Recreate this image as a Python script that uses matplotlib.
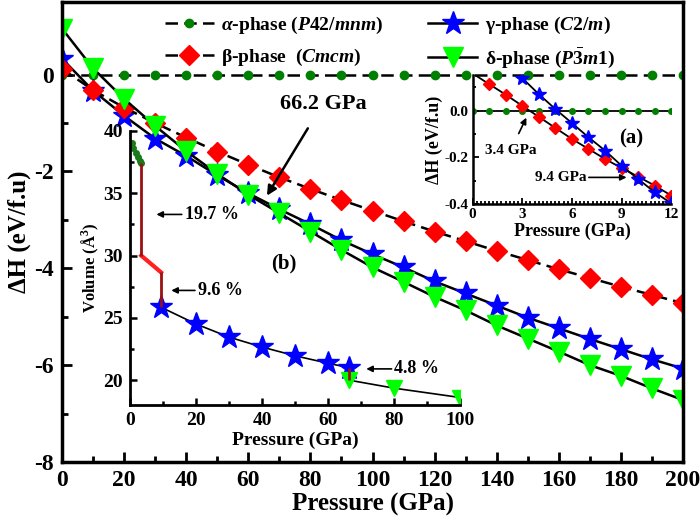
import matplotlib
matplotlib.use('Agg')
import matplotlib.pyplot as plt
from matplotlib.ticker import MultipleLocator, FormatStrFormatter

plt.rcParams['font.family'] = ['Liberation Serif', 'DejaVu Serif']
plt.rcParams['font.weight'] = 'bold'
plt.rcParams['axes.labelweight'] = 'bold'
plt.rcParams['axes.unicode_minus'] = False
plt.rcParams['mathtext.fontset'] = 'custom'
plt.rcParams['mathtext.rm'] = 'Liberation Serif:bold'
plt.rcParams['mathtext.it'] = 'Liberation Serif:italic:bold'
plt.rcParams['mathtext.bf'] = 'Liberation Serif:bold'

# main panel: enthalpy relative to alpha phase (eV/f.u) vs pressure (GPa)
pressure = [0, 10, 20, 30, 40, 50, 60, 70, 80, 90, 100,
            110, 120, 130, 140, 150, 160, 170, 180, 190, 200]
dh_alpha = [0] * 21
dh_beta = [0.12, -0.32, -0.68, -1.00, -1.30, -1.59, -1.86, -2.12, -2.36, -2.59, -2.81,
           -3.03, -3.24, -3.44, -3.64, -3.83, -4.02, -4.20, -4.38, -4.55, -4.72]
dh_gamma = [0.33, -0.33, -0.85, -1.32, -1.68, -2.08, -2.45, -2.78, -3.09, -3.42, -3.71,
            -3.98, -4.27, -4.52, -4.77, -5.02, -5.24, -5.46, -5.67, -5.88, -6.07]
dh_delta = [0.95, 0.13, -0.50, -1.06, -1.58, -2.05, -2.48, -2.86, -3.24, -3.62, -3.98,
            -4.28, -4.59, -4.87, -5.18, -5.45, -5.72, -6.00, -6.22, -6.48, -6.72]

# inset (a): low pressure zoom
pa = [0, 1, 2, 3, 4, 5, 6, 7, 8, 9, 10, 11, 12]
dha_alpha = [0] * 13
dha_beta = [0.16, 0.114, 0.069, 0.021, -0.026, -0.074, -0.121, -0.164, -0.207, -0.246, -0.283, -0.321, -0.364]
pa_gamma = [3, 4, 5, 6, 7, 8, 9, 10, 11, 12]
dha_gamma = [0.14, 0.071, 0.007, -0.053, -0.114, -0.171, -0.236, -0.293, -0.35, -0.397]

# inset (b): volume per f.u. along the transition path
pv_alpha = [0.5, 1.0, 1.8, 2.5, 3.0, 3.4]
v_alpha = [39.0, 38.6, 38.2, 37.9, 37.6, 37.4]
pv_beta = [3.4, 9.4]
v_beta = [30.0, 28.65]
pv_gamma = [9.4, 20, 30, 40, 50, 60, 66.2]
v_gamma = [25.85, 24.5, 23.45, 22.65, 21.95, 21.35, 21.0]
pv_delta = [66.2, 80, 100]
v_delta = [20.0, 19.35, 18.6]
p_trans = [3.4, 9.4, 66.2]
v_before = [37.4, 28.65, 21.0]
v_after = [30.0, 25.85, 20.0]

fig = plt.figure(figsize=(7, 5.26), dpi=100)
ax = fig.add_axes([0.0886, 0.1217, 0.8871, 0.8745])

ax.plot(pressure, dh_alpha, color='black', lw=1.8, ls=(0, (5, 2.5)), marker='o', ms=6,
        mfc='#008000', mec='#008000', label=r'$\alpha$-phase ($\mathit{P42/mnm}$)')
ax.plot(pressure, dh_gamma, color='black', lw=1.8, marker='*', ms=17,
        mfc='#0000ff', mec='#0000ff', label=r'γ-phase ($C2/m$)')
ax.plot(pressure, dh_beta, color='black', lw=1.8, ls=(0, (5, 2.5)), marker='D', ms=10,
        mfc='#ff0000', mec='#ff0000', label=r'β-phase  ($Cmcm$)')
ax.plot(pressure, dh_delta, color='black', lw=1.8, marker='v', ms=14,
        mfc='#00ff00', mec='#00ff00', label=r'δ-phase ($P\bar{3}m1$)')

ax.set_xlim(0, 200)
ax.set_ylim(-8, 1.5)
ax.xaxis.set_major_locator(MultipleLocator(20))
ax.xaxis.set_minor_locator(MultipleLocator(10))
ax.yaxis.set_major_locator(MultipleLocator(2))
ax.yaxis.set_minor_locator(MultipleLocator(1))
ax.tick_params(which='both', direction='in', width=2, labelsize=17, pad=6)
ax.tick_params(which='major', length=7)
ax.tick_params(which='minor', length=4)
for s in ax.spines.values():
    s.set_linewidth(2.5)
ax.set_xlabel('Pressure (GPa)', fontsize=18, labelpad=1)
ax.set_ylabel('ΔH (eV/f.u)', fontsize=18, labelpad=2)

# legend columns: alpha, beta | gamma, delta
h, l = ax.get_legend_handles_labels()
order = [0, 2, 1, 3]
ax.legend([h[i] for i in order], [l[i] for i in order], ncol=2, frameon=False,
          loc='upper left', bbox_to_anchor=(0.166, 0.972), borderaxespad=0, borderpad=0,
          handlelength=2.5, handletextpad=0.4, columnspacing=2.3, labelspacing=0.55,
          numpoints=1, fontsize=14)

ax.annotate('66.2 GPa', xy=(66, -2.5), xytext=(84, -0.6), fontsize=16, ha='center', va='center',
            arrowprops=dict(arrowstyle='-|>', color='black', lw=1.8, shrinkA=10, shrinkB=0,
                            mutation_scale=14))

# inset (a)
axa = fig.add_axes([0.675, 0.6122, 0.284, 0.2452], facecolor='none')
axa.plot(pa, dha_alpha, color='black', lw=1.3, marker='o', ms=4, mfc='#008000', mec='#008000')
axa.plot(pa, dha_beta, color='black', lw=1.3, marker='D', ms=6, mfc='#ff0000', mec='#ff0000',
         markevery=list(range(1, 13)))
axa.plot(pa_gamma, dha_gamma, color='black', lw=1.3, marker='*', ms=10, mfc='#0000ff', mec='#0000ff')
axa.set_xlim(0, 12)
axa.set_ylim(-0.4, 0.153)
axa.xaxis.set_major_locator(MultipleLocator(3))
axa.xaxis.set_minor_locator(MultipleLocator(0.25))
axa.yaxis.set_major_locator(MultipleLocator(0.2))
axa.yaxis.set_minor_locator(MultipleLocator(0.1))
axa.tick_params(which='both', direction='in', width=1.3, labelsize=11, pad=3)
axa.tick_params(which='major', length=4)
axa.tick_params(which='minor', length=2)
axa.yaxis.set_major_formatter(FormatStrFormatter('%.1f'))
axa.spines['top'].set_visible(False)
axa.spines['right'].set_visible(False)
for s in ['left', 'bottom']:
    axa.spines[s].set_linewidth(1.8)
axa.set_xlabel('Pressure (GPa)', fontsize=13, labelpad=1)
axa.set_ylabel('ΔH (eV/f.u)', fontsize=13, labelpad=1)
axa.annotate('3.4 GPa', xy=(3.25, -0.03), xytext=(2.3, -0.17), fontsize=11, ha='center', va='center',
             arrowprops=dict(arrowstyle='-|>', color='black', lw=1.2, shrinkA=6, shrinkB=0,
                             mutation_scale=9))
axa.annotate('9.4 GPa', xy=(9.3, -0.286), xytext=(5.3, -0.286), fontsize=11, ha='center', va='center',
             arrowprops=dict(arrowstyle='-|>', color='black', lw=1.2, shrinkA=28, shrinkB=0,
                             mutation_scale=9))
axa.text(9.6, -0.12, '(a)', fontsize=15, ha='center', va='center')

# inset (b)
axb = fig.add_axes([0.1857, 0.23, 0.4721, 0.521], facecolor='none')
axb.plot(pv_alpha, v_alpha, ls='none', marker='o', ms=4, mfc='#1a7a1a', mec='#1a7a1a')
axb.plot(pv_beta, v_beta, color='#ff2020', lw=3)
axb.plot(pv_gamma, v_gamma, color='black', lw=1.2, marker='*', ms=17, mfc='#0000ff', mec='#0000ff')
axb.plot(pv_delta, v_delta, color='black', lw=1.2, marker='v', ms=12, mfc='#00ff00', mec='#00ff00')
axb.vlines(p_trans, v_after, v_before, color='#9b1010', lw=2)
axb.set_xlim(0, 100)
axb.set_ylim(18, 40)
axb.xaxis.set_major_locator(MultipleLocator(20))
axb.xaxis.set_minor_locator(MultipleLocator(10))
axb.yaxis.set_major_locator(MultipleLocator(5))
axb.yaxis.set_minor_locator(MultipleLocator(2.5))
axb.tick_params(which='both', direction='in', width=1.8, labelsize=14, pad=5)
axb.tick_params(which='major', length=5)
axb.tick_params(which='minor', length=3)
axb.spines['top'].set_visible(False)
axb.spines['right'].set_visible(False)
for s in ['left', 'bottom']:
    axb.spines[s].set_linewidth(2)
axb.set_xlabel('Pressure (GPa)', fontsize=14, labelpad=2)
axb.set_ylabel('Volume (Å$^3$)', fontsize=12, labelpad=2)
arr = dict(arrowstyle='-|>', color='black', lw=1.2, shrinkA=0, shrinkB=0, mutation_scale=9)
axb.annotate('19.7 %', xy=(8, 33.3), xytext=(16.5, 33.3), fontsize=13, ha='left', va='center',
             arrowprops=arr)
axb.annotate('9.6 %', xy=(12.5, 27.2), xytext=(20.5, 27.2), fontsize=13, ha='left', va='center',
             arrowprops=arr)
axb.annotate('4.8 %', xy=(71.5, 20.9), xytext=(80, 20.9), fontsize=13, ha='left', va='center',
             arrowprops=arr)
axb.text(46.5, 29.4, '(b)', fontsize=15, ha='center', va='center')

fig.savefig('out.png', dpi=100)
